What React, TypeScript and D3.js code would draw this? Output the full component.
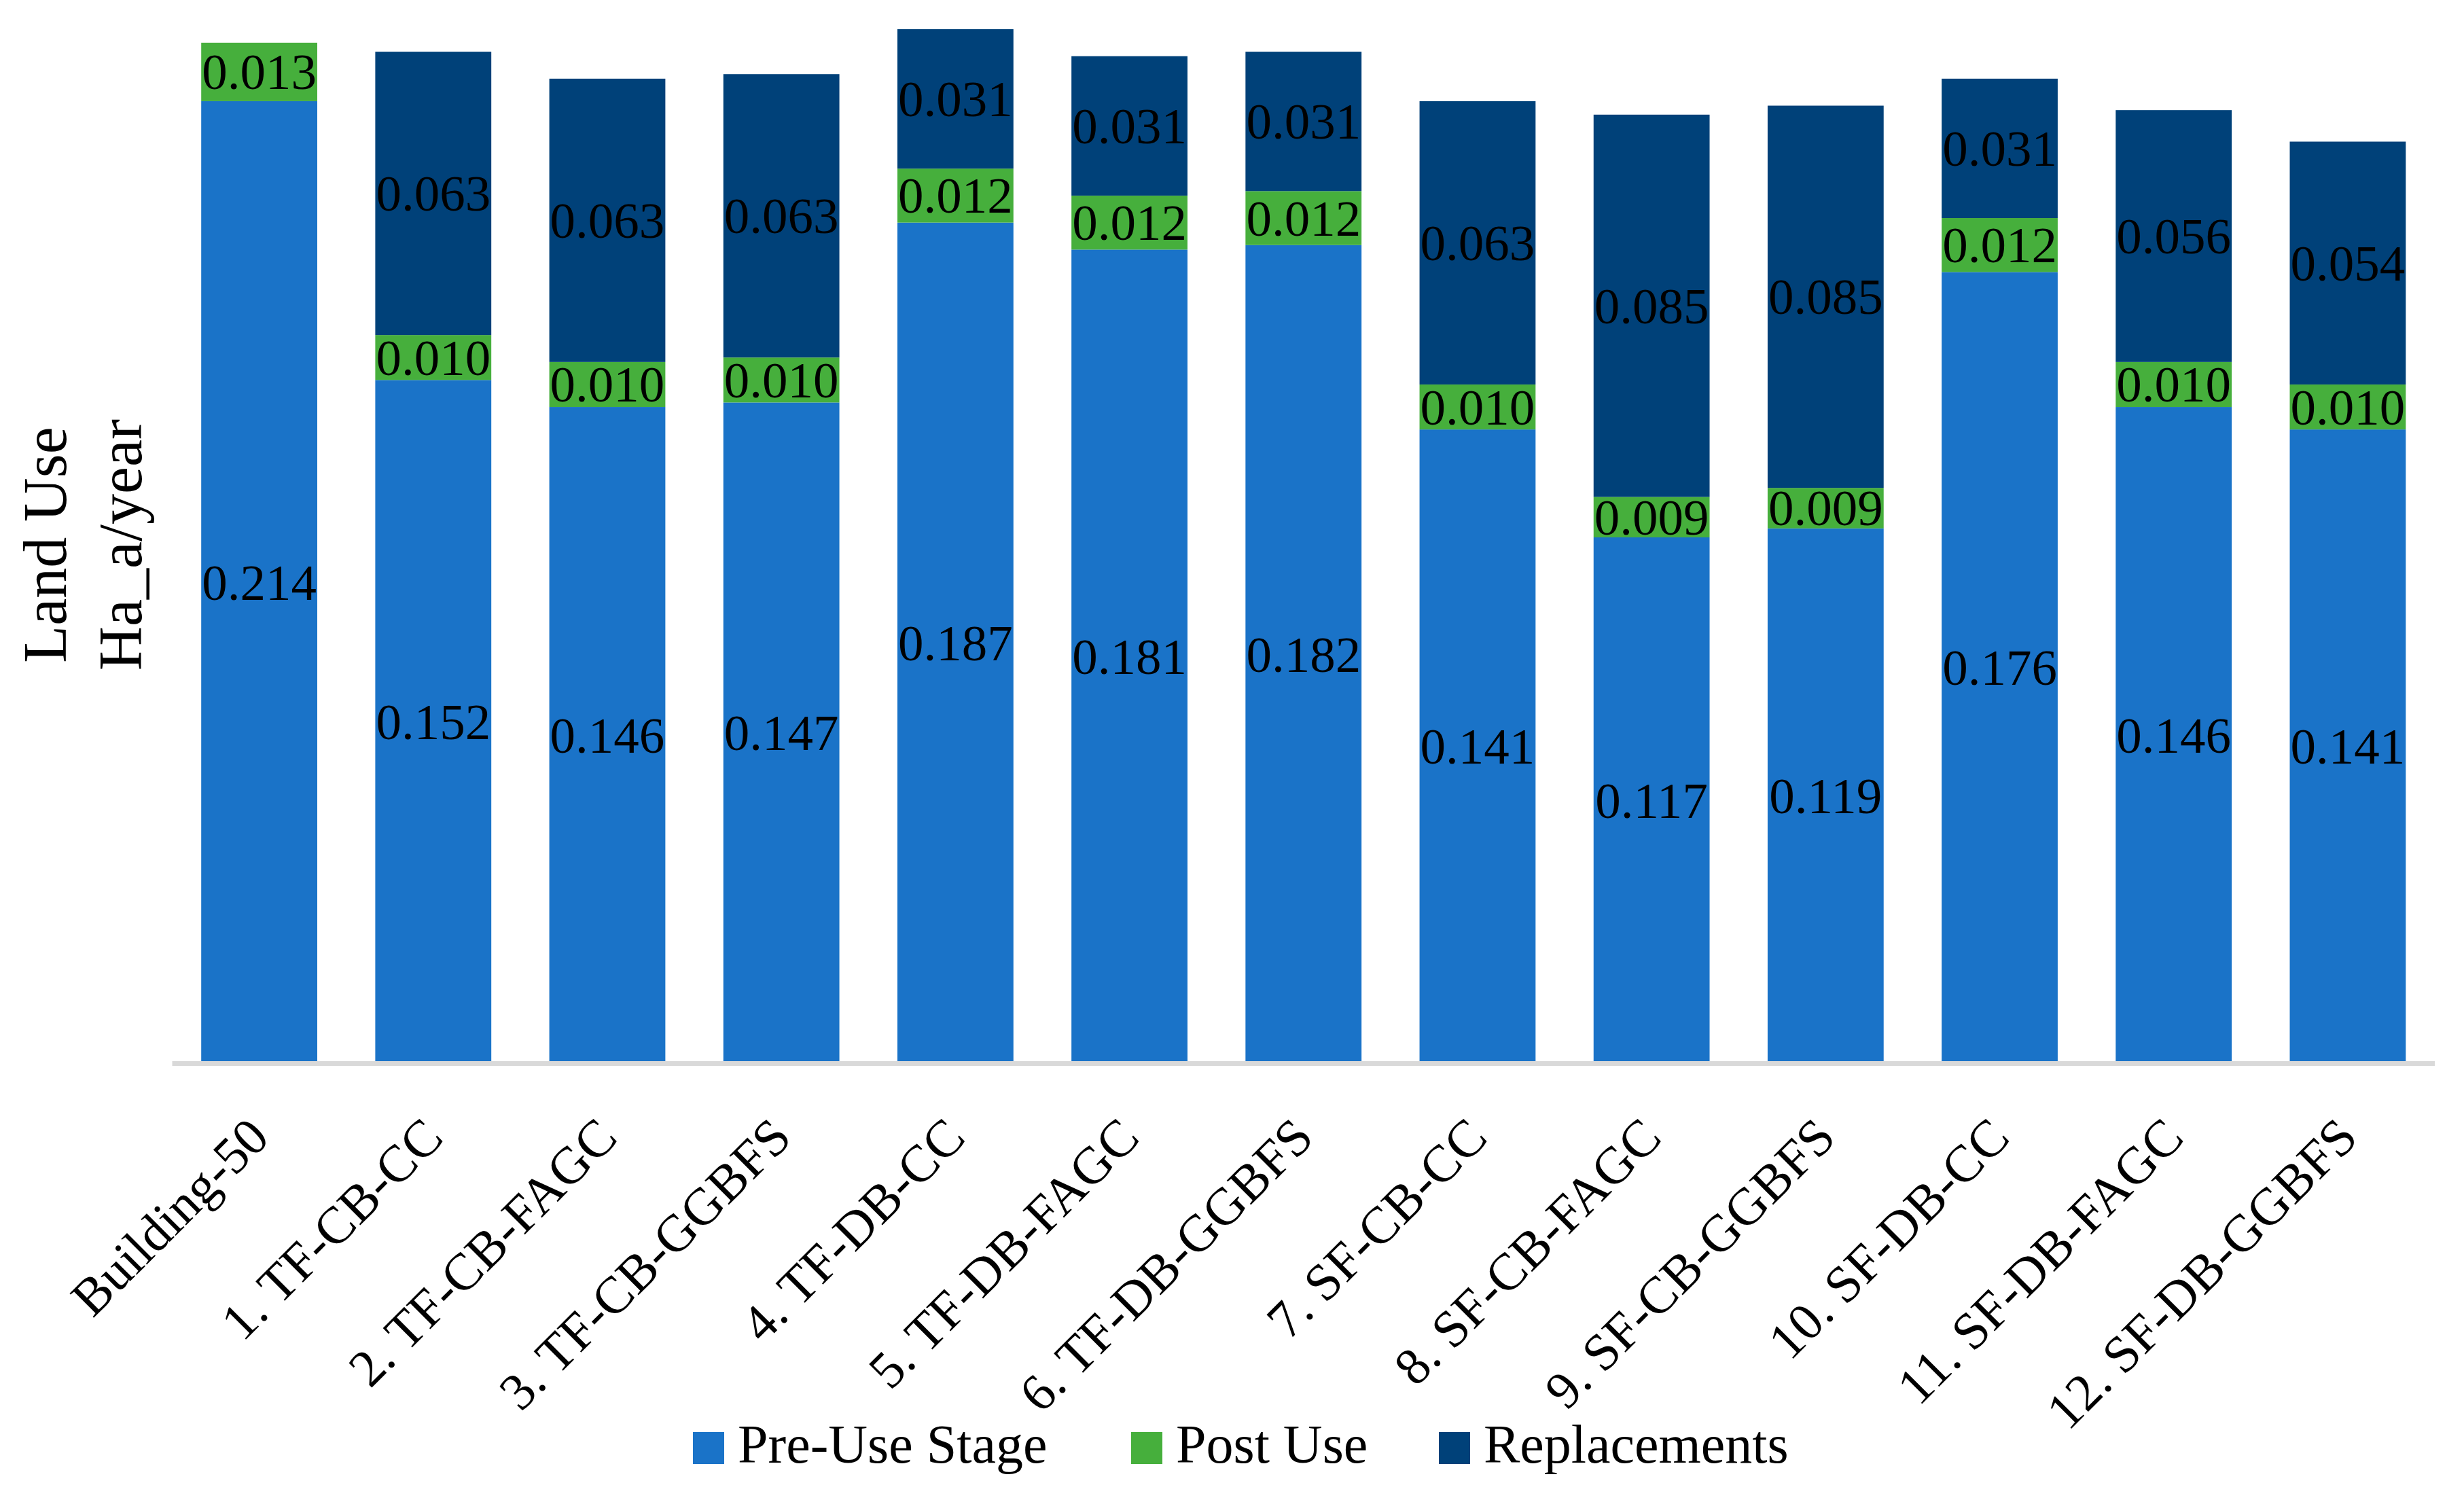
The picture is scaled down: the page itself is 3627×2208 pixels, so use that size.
import React from "react";
import * as d3 from "d3";

const categories = [
  "Building-50",
  "1. TF-CB-CC",
  "2. TF-CB-FAGC",
  "3. TF-CB-GGBFS",
  "4. TF-DB-CC",
  "5. TF-DB-FAGC",
  "6. TF-DB-GGBFS",
  "7. SF-CB-CC",
  "8. SF-CB-FAGC",
  "9. SF-CB-GGBFS",
  "10. SF-DB-CC",
  "11. SF-DB-FAGC",
  "12. SF-DB-GGBFS",
];
const preUse = [0.214, 0.152, 0.146, 0.147, 0.187, 0.181, 0.182, 0.141, 0.117, 0.119, 0.176, 0.146, 0.141];
const postUse = [0.013, 0.01, 0.01, 0.01, 0.012, 0.012, 0.012, 0.01, 0.009, 0.009, 0.012, 0.01, 0.01];
const replacements = [0, 0.063, 0.063, 0.063, 0.031, 0.031, 0.031, 0.063, 0.085, 0.085, 0.031, 0.056, 0.054];

const seriesNames = ["Pre-Use Stage", "Post Use", "Replacements"];
const seriesKeys = ["pre", "post", "rep"];
const colors = ["#1A73C8", "#46AF3C", "#004179"];
const yAxisTitle = ["Land Use", "Ha_a/year"];

const W = 3627;
const H = 2208;
const FONT = "'Liberation Serif', 'Times New Roman', serif";

export default function App() {
  const rows = categories.map((c, i) => ({
    cat: c,
    pre: preUse[i],
    post: postUse[i],
    rep: replacements[i],
  }));
  const stacked = d3.stack<any>().keys(seriesKeys)(rows);

  const x = d3
    .scaleBand<string>()
    .domain(categories)
    .range([253.5, 3584])
    .paddingInner(1 / 3)
    .paddingOuter(1 / 6);
  const y = d3.scaleLinear().domain([0, 0.23]).range([1565.5, 43]);
  const fmt = d3.format(".3f");
  const bw = x.bandwidth();

  const legendX = [1020, 1665, 2118];
  const legendY = 2108;

  return (
    <svg
      width={W}
      height={H}
      viewBox={`0 0 ${W} ${H}`}
      style={{ position: "absolute", left: 0, top: 0, display: "block", background: "#fff" }}
      fontFamily={FONT}
    >
      <rect x={0} y={0} width={W} height={H} fill="#fff" />
      {stacked.map((layer, si) => (
        <g key={layer.key} fill={colors[si]}>
          {layer.map((d, i) => {
            const v = d[1] - d[0];
            if (v <= 0) return null;
            return (
              <rect
                key={i}
                x={x(categories[i])}
                y={y(d[1])}
                width={bw}
                height={y(d[0]) - y(d[1])}
              />
            );
          })}
        </g>
      ))}
      {stacked.map((layer, si) => (
        <g key={"l" + layer.key} fontSize={75} fill="#000" textAnchor="middle">
          {layer.map((d, i) => {
            const v = d[1] - d[0];
            if (v <= 0) return null;
            return (
              <text
                key={i}
                x={(x(categories[i]) as number) + bw / 2}
                y={(y(d[0]) + y(d[1])) / 2}
                dominantBaseline="central"
              >
                {fmt(v)}
              </text>
            );
          })}
        </g>
      ))}
      <line x1={253.5} x2={3584} y1={1565.5} y2={1565.5} stroke="#D9D9D9" strokeWidth={7} />
      <g fontSize={77} fill="#000" textAnchor="end">
        {categories.map((c) => {
          const cx = (x(c) as number) + bw / 2;
          return (
            <text key={c} transform={`translate(${cx + 18},${1678}) rotate(-45)`}>
              {c}
            </text>
          );
        })}
      </g>
      <g fontSize={90} fill="#000" textAnchor="middle">
        <text transform={`translate(97,802) rotate(-90)`}>{yAxisTitle[0]}</text>
        <text transform={`translate(208,802) rotate(-90)`}>{yAxisTitle[1]}</text>
      </g>
      <g fontSize={80} fill="#000">
        {seriesNames.map((n, i) => (
          <g key={n}>
            <rect x={legendX[i]} y={legendY} width={46} height={47} fill={colors[i]} />
            <text x={legendX[i] + 66} y={2153}>
              {n}
            </text>
          </g>
        ))}
      </g>
    </svg>
  );
}
